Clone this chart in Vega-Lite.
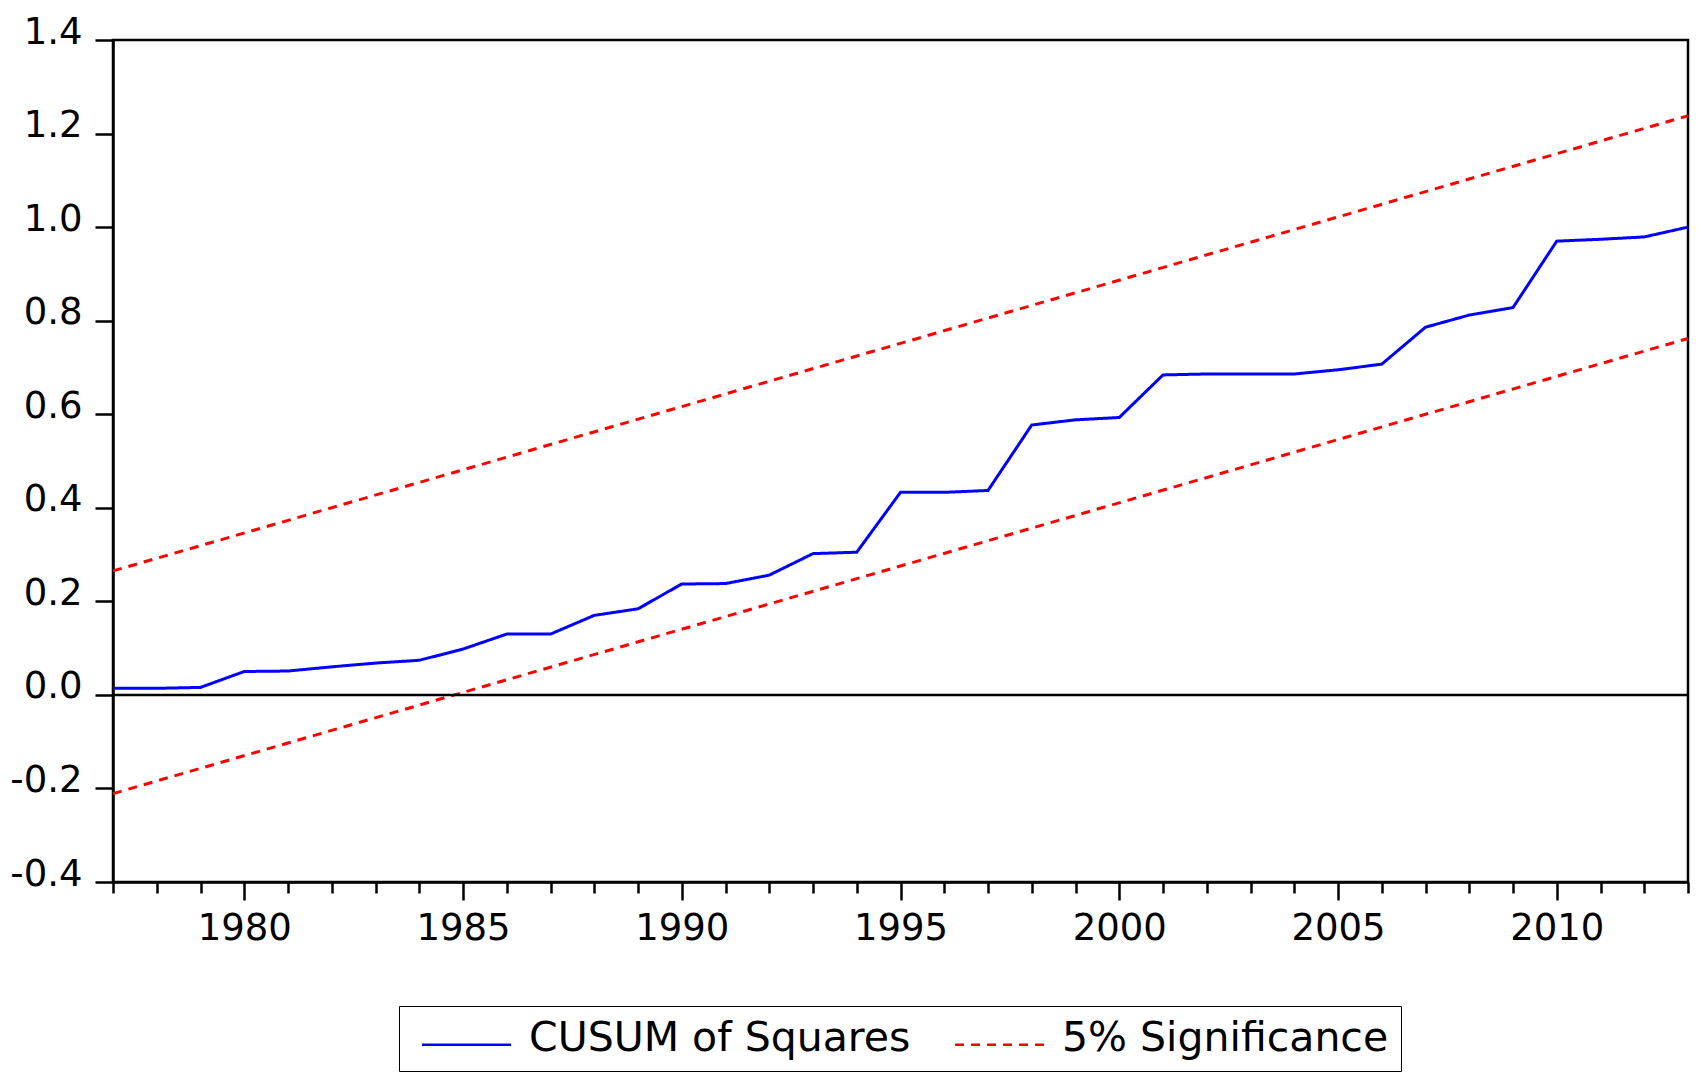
{
  "$schema": "https://vega.github.io/schema/vega-lite/v6.json",
  "width": 1575,
  "height": 842,
  "autosize": {"type": "none"},
  "padding": {"left": 113, "top": 40, "right": 10, "bottom": 197},
  "background": "white",
  "config": {
    "view": {"stroke": "black", "strokeWidth": 2.5},
    "font": "DejaVu Sans",
    "legend": {
      "orient": "none",
      "legendX": 286,
      "legendY": 966,
      "direction": "horizontal",
      "title": null,
      "strokeColor": "black",
      "fillColor": "white",
      "padding": 12,
      "symbolType": "M-4.45,0.6H4.45",
      "symbolSize": 400,
      "symbolStrokeWidth": 2.5,
      "symbolOffset": 35,
      "labelFontSize": 41,
      "labelFont": "DejaVu Sans",
      "labelColor": "black",
      "labelLimit": 600,
      "labelOffset": 42,
      "columnPadding": 33
    }
  },
  "datasets": {
    "lines": [
      {"series": "CUSUM of Squares", "bound": "cusum", "year": 1977, "value": 0.014},
      {"series": "CUSUM of Squares", "bound": "cusum", "year": 1978, "value": 0.014},
      {"series": "CUSUM of Squares", "bound": "cusum", "year": 1979, "value": 0.016},
      {"series": "CUSUM of Squares", "bound": "cusum", "year": 1980, "value": 0.05},
      {"series": "CUSUM of Squares", "bound": "cusum", "year": 1981, "value": 0.051},
      {"series": "CUSUM of Squares", "bound": "cusum", "year": 1982, "value": 0.06},
      {"series": "CUSUM of Squares", "bound": "cusum", "year": 1983, "value": 0.068},
      {"series": "CUSUM of Squares", "bound": "cusum", "year": 1984, "value": 0.074},
      {"series": "CUSUM of Squares", "bound": "cusum", "year": 1985, "value": 0.098},
      {"series": "CUSUM of Squares", "bound": "cusum", "year": 1986, "value": 0.13},
      {"series": "CUSUM of Squares", "bound": "cusum", "year": 1987, "value": 0.13},
      {"series": "CUSUM of Squares", "bound": "cusum", "year": 1988, "value": 0.17},
      {"series": "CUSUM of Squares", "bound": "cusum", "year": 1989, "value": 0.184},
      {"series": "CUSUM of Squares", "bound": "cusum", "year": 1990, "value": 0.237},
      {"series": "CUSUM of Squares", "bound": "cusum", "year": 1991, "value": 0.238},
      {"series": "CUSUM of Squares", "bound": "cusum", "year": 1992, "value": 0.256},
      {"series": "CUSUM of Squares", "bound": "cusum", "year": 1993, "value": 0.302},
      {"series": "CUSUM of Squares", "bound": "cusum", "year": 1994, "value": 0.305},
      {"series": "CUSUM of Squares", "bound": "cusum", "year": 1995, "value": 0.433},
      {"series": "CUSUM of Squares", "bound": "cusum", "year": 1996, "value": 0.433},
      {"series": "CUSUM of Squares", "bound": "cusum", "year": 1997, "value": 0.437},
      {"series": "CUSUM of Squares", "bound": "cusum", "year": 1998, "value": 0.577},
      {"series": "CUSUM of Squares", "bound": "cusum", "year": 1999, "value": 0.588},
      {"series": "CUSUM of Squares", "bound": "cusum", "year": 2000, "value": 0.593},
      {"series": "CUSUM of Squares", "bound": "cusum", "year": 2001, "value": 0.684},
      {"series": "CUSUM of Squares", "bound": "cusum", "year": 2002, "value": 0.686},
      {"series": "CUSUM of Squares", "bound": "cusum", "year": 2003, "value": 0.686},
      {"series": "CUSUM of Squares", "bound": "cusum", "year": 2004, "value": 0.686},
      {"series": "CUSUM of Squares", "bound": "cusum", "year": 2005, "value": 0.695},
      {"series": "CUSUM of Squares", "bound": "cusum", "year": 2006, "value": 0.707},
      {"series": "CUSUM of Squares", "bound": "cusum", "year": 2007, "value": 0.786},
      {"series": "CUSUM of Squares", "bound": "cusum", "year": 2008, "value": 0.812},
      {"series": "CUSUM of Squares", "bound": "cusum", "year": 2009, "value": 0.828},
      {"series": "CUSUM of Squares", "bound": "cusum", "year": 2010, "value": 0.97},
      {"series": "CUSUM of Squares", "bound": "cusum", "year": 2011, "value": 0.974},
      {"series": "CUSUM of Squares", "bound": "cusum", "year": 2012, "value": 0.979},
      {"series": "CUSUM of Squares", "bound": "cusum", "year": 2013, "value": 1.0},
      {"series": "5% Significance", "bound": "upper", "year": 1977, "value": 0.265},
      {"series": "5% Significance", "bound": "upper", "year": 2013, "value": 1.238},
      {"series": "5% Significance", "bound": "lower", "year": 1977, "value": -0.211},
      {"series": "5% Significance", "bound": "lower", "year": 2013, "value": 0.762}
    ]
  },
  "layer": [
    {
      "data": {"name": "lines"},
      "mark": {"type": "line", "strokeWidth": 3},
      "encoding": {
        "x": {
          "field": "year",
          "type": "quantitative",
          "scale": {"domain": [1977, 2013], "nice": false, "zero": false},
          "axis": {
            "values": [1977, 1978, 1979, 1980, 1981, 1982, 1983, 1984, 1985, 1986, 1987, 1988, 1989, 1990, 1991, 1992, 1993, 1994, 1995, 1996, 1997, 1998, 1999, 2000, 2001, 2002, 2003, 2004, 2005, 2006, 2007, 2008, 2009, 2010, 2011, 2012, 2013],
            "format": "d",
            "labelExpr": "datum.value % 5 === 0 ? datum.label : ''",
            "tickSize": {"condition": {"test": "datum.value % 5 === 0", "value": 18}, "value": 11},
            "tickColor": "black",
            "tickWidth": 2.5,
            "domainColor": "black",
            "domainWidth": 2.5,
            "labelFontSize": 37,
            "labelFont": "DejaVu Sans",
            "labelColor": "black",
            "labelPadding": 10,
            "labelFlush": false,
            "labelOverlap": false,
            "grid": false,
            "title": null
          }
        },
        "y": {
          "field": "value",
          "type": "quantitative",
          "scale": {"domain": [-0.4, 1.4], "nice": false, "zero": false},
          "axis": {
            "values": [-0.4, -0.2, 0, 0.2, 0.4, 0.6, 0.8, 1.0, 1.2, 1.4],
            "format": ".1f",
            "labelExpr": "replace(datum.label, '\u2212', '-')",
            "tickSize": 18,
            "tickColor": "black",
            "tickWidth": 2.5,
            "domainColor": "black",
            "domainWidth": 2.5,
            "labelFontSize": 37,
            "labelFont": "DejaVu Sans",
            "labelColor": "black",
            "labelPadding": 13,
            "labelBaseline": "alphabetic",
            "labelOffset": 3,
            "labelFlush": false,
            "labelOverlap": false,
            "grid": false,
            "title": null
          }
        },
        "color": {
          "field": "series",
          "type": "nominal",
          "scale": {"domain": ["CUSUM of Squares", "5% Significance"], "range": ["#0000FF", "#FF0000"]}
        },
        "strokeDash": {
          "field": "series",
          "type": "nominal",
          "scale": {"domain": ["CUSUM of Squares", "5% Significance"], "range": [[1, 0], [9, 7]]}
        },
        "detail": {"field": "bound", "type": "nominal"}
      }
    },
    {
      "data": {"values": [{}]},
      "mark": {"type": "rule", "color": "black", "strokeWidth": 2.5},
      "encoding": {"y": {"datum": 0}}
    }
  ]
}
